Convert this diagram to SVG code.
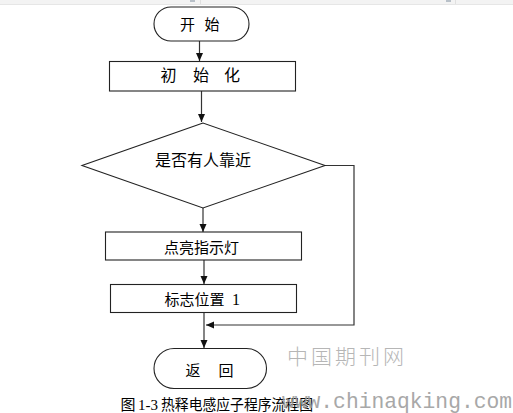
<svg xmlns="http://www.w3.org/2000/svg" width="513" height="413" viewBox="0 0 513 413">
<defs>
<style>
.box{fill:#fff;stroke:#222;stroke-width:1.1}
.lbl{font-family:"Noto Sans CJK SC","Noto Sans",sans-serif;font-size:15px;fill:#000;text-anchor:middle}
.ln{fill:none;stroke:#333;stroke-width:1.2}
.num{font-family:"Liberation Serif",serif;font-size:16px;fill:#000}
</style>
<marker id="arr" markerUnits="userSpaceOnUse" markerWidth="9" markerHeight="8" refX="8" refY="3.5" orient="auto">
<path d="M0,0 L8,3.5 L0,7 z" fill="#111"/>
</marker>
</defs>
<rect width="513" height="413" fill="#fff"/>
<rect x="0" y="0" width="513" height="4" fill="#f3f3f3"/>
<line x1="0" y1="4.5" x2="513" y2="4.5" stroke="#e6e6e6"/>
<rect x="190" y="0" width="5" height="2" fill="#b8c0c8"/>
<rect x="446" y="0" width="5" height="2" fill="#b8c0c8"/>
<line x1="200.5" y1="0" x2="200.5" y2="4" stroke="#e0e0e0"/>
<line x1="455.5" y1="0" x2="455.5" y2="4" stroke="#e0e0e0"/>

<g id="connectors">
<line class="ln" x1="199.5" y1="41" x2="199.5" y2="61" marker-end="url(#arr)"/>
<line class="ln" x1="201.5" y1="91" x2="201.5" y2="122" marker-end="url(#arr)"/>
<line class="ln" x1="203" y1="208" x2="203" y2="232" marker-end="url(#arr)"/>
<line class="ln" x1="204" y1="260" x2="204" y2="284" marker-end="url(#arr)"/>
<line class="ln" x1="204" y1="312" x2="204" y2="348" marker-end="url(#arr)"/>
<polyline class="ln" points="325,165.5 354,165.5 354,325 206,325" marker-end="url(#arr)"/>
</g>

<g id="start">
<rect class="box" x="154" y="7" width="95" height="34" rx="17" ry="17"/>
<text class="lbl" x="187.5" y="30">开</text>
<text class="lbl" x="212" y="30">始</text>
</g>
<g id="init">
<rect class="box" x="109.5" y="61.5" width="186" height="29.5"/>
<text class="lbl" x="168.5" y="81" style="font-size:16px">初</text>
<text class="lbl" x="201" y="81" style="font-size:16px">始</text>
<text class="lbl" x="232" y="81" style="font-size:16px">化</text>
</g>
<g id="decision">
<polygon class="box" points="203,123 82,165.5 203,208 325,165.5"/>
<text class="lbl" x="203" y="166" style="font-size:16px">是否有人靠近</text>
</g>
<g id="light">
<rect class="box" x="105.5" y="232" width="196" height="28"/>
<text class="lbl" x="201.5" y="253">点亮指示灯</text>
</g>
<g id="flag">
<rect class="box" x="110.5" y="284.5" width="186" height="28"/>
<text class="lbl" x="194.5" y="305">标志位置</text>
<text class="num" x="232" y="305">1</text>
</g>
<g id="return">
<rect class="box" x="154" y="348.5" width="112.5" height="40" rx="20" ry="20"/>
<text class="lbl" x="193" y="376">返</text>
<text class="lbl" x="226" y="376">回</text>
</g>

<g id="caption">
<text class="lbl" x="128" y="410">图</text>
<text class="num" x="138" y="410" style="font-size:15px">1-3</text>
<text class="lbl" x="161" y="410" style="text-anchor:start" textLength="152" lengthAdjust="spacingAndGlyphs">热释电感应子程序流程图</text>
</g>

<g id="watermark" opacity="0.85">
<text x="287" y="364" style="font-family:'Noto Sans CJK SC',sans-serif;font-size:21px;fill:#aaa;letter-spacing:3px;font-weight:300">中国期刊网</text>
<text x="282" y="408" style="font-family:'Liberation Mono',monospace;font-size:21.3px;fill:#999">www.chinaqking.com</text>
</g>
</svg>
